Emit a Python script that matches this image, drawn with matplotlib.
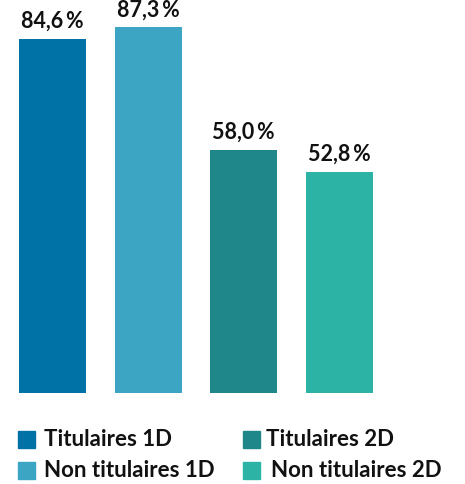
import matplotlib
matplotlib.use("Agg")
import matplotlib.pyplot as plt
from matplotlib.patches import Rectangle

# données
categories = ["Titulaires 1D", "Non titulaires 1D", "Titulaires 2D", "Non titulaires 2D"]
values = [84.6, 87.3, 58.0, 52.8]
colors = ["#0072a5", "#3ca5c4", "#1f868a", "#2db3a6"]

plt.rcParams['font.family'] = ['Lato', 'DejaVu Sans']

W, H = 465, 484
fig = plt.figure(figsize=(W / 100, H / 100), dpi=100)
ax = fig.add_axes([0, (H - 393) / H, 392 / W, 393 / H])

x = range(len(values))
bars = ax.bar(x, values, width=0.70, color=colors)
ax.set_xlim(-0.55, 3.55)
ax.set_ylim(0, 393 / 4.19)

for b, v in zip(bars, values):
    txt = f"{v:.1f}".replace(".", ",") + "\u2009%"
    ax.annotate(txt, (b.get_x() + b.get_width() / 2, v), xytext=(0, 5),
                textcoords="offset points", ha="center", va="bottom",
                fontsize=15.5, fontweight="bold", color="#111111")

ax.axis("off")

# légende faite à la main
pos = [(18, 431), (18, 462), (243, 431), (243, 462)]
text_x = [44, 44, 266, 271]
for (px, py), tx, lab, c in zip(pos, text_x, categories, colors):
    fig.patches.append(Rectangle((px / W, 1 - (py + 17) / H), 17 / W, 17 / H,
                                 transform=fig.transFigure, color=c))
    fig.text(tx / W, 1 - (py + 8.5) / H, lab, ha="left", va="center",
             fontsize=16, fontweight="bold", color="#111111")

fig.savefig("out.png", dpi=100)
